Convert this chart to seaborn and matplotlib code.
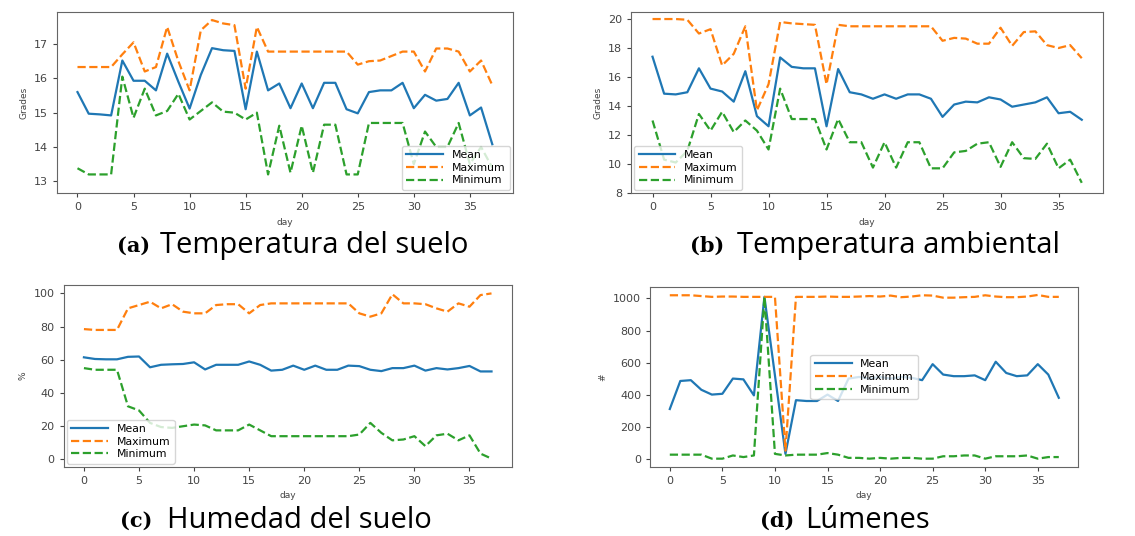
import pandas as pd
import matplotlib.pyplot as plt
import seaborn as sns

days = list(range(38))

# (a) soil temperature
soil_mean = [15.6, 14.97, 14.95, 14.92, 16.52, 15.93, 15.93, 15.65, 16.72, 15.9,
             15.12, 16.1, 16.88, 16.82, 16.8, 15.1, 16.78, 15.65, 15.85, 15.13,
             15.85, 15.13, 15.87, 15.87, 15.1, 14.98, 15.6, 15.65, 15.65, 15.87,
             15.13, 15.52, 15.35, 15.4, 15.87, 14.92, 15.15, 14.08]
soil_max = [16.33, 16.33, 16.33, 16.33, 16.7, 17.05, 16.2, 16.33, 17.5, 16.5,
            15.65, 17.4, 17.7, 17.6, 17.55, 15.7, 17.5, 16.78, 16.78, 16.78,
            16.78, 16.78, 16.78, 16.78, 16.78, 16.4, 16.5, 16.52, 16.65, 16.78,
            16.78, 16.2, 16.87, 16.87, 16.78, 16.2, 16.52, 15.8]
soil_min = [13.38, 13.2, 13.2, 13.2, 16.05, 14.85, 15.7, 14.92, 15.05, 15.55,
            14.8, 15.05, 15.3, 15.03, 15.0, 14.8, 15.0, 13.2, 14.62, 13.25,
            14.62, 13.25, 14.65, 14.65, 13.2, 13.2, 14.7, 14.7, 14.7, 14.7,
            13.5, 14.45, 14.0, 14.0, 14.7, 13.5, 14.0, 13.4]

# (b) ambient temperature
amb_mean = [17.4, 14.85, 14.8, 14.95, 16.6, 15.2, 15.0, 14.3, 16.4, 13.3,
            12.6, 17.35, 16.7, 16.6, 16.6, 12.6, 16.55, 14.95, 14.8, 14.5,
            14.8, 14.5, 14.8, 14.8, 14.5, 13.25, 14.1, 14.3, 14.25, 14.6,
            14.45, 13.95, 14.1, 14.25, 14.6, 13.5, 13.6, 13.05]
amb_max = [20.0, 20.0, 20.0, 19.95, 19.0, 19.3, 16.8, 17.6, 19.5, 13.7,
           15.5, 19.8, 19.7, 19.65, 19.6, 15.5, 19.6, 19.5, 19.5, 19.5,
           19.5, 19.5, 19.5, 19.5, 19.5, 18.5, 18.7, 18.65, 18.3, 18.3,
           19.4, 18.15, 19.1, 19.15, 18.2, 18.0, 18.2, 17.3]
amb_min = [13.0, 10.3, 10.1, 10.9, 13.45, 12.3, 13.6, 12.2, 13.0, 12.3,
           11.0, 15.2, 13.1, 13.1, 13.1, 11.0, 13.1, 11.5, 11.5, 9.75,
           11.5, 9.75, 11.5, 11.5, 9.7, 9.7, 10.8, 10.9, 11.4, 11.5,
           9.8, 11.5, 10.4, 10.35, 11.4, 9.7, 10.3, 8.7]

# (c) soil humidity
hum_mean = [61.5, 60.5, 60.3, 60.3, 61.8, 62.0, 55.5, 57.0, 57.3, 57.5,
            58.5, 54.2, 57.0, 57.0, 57.0, 59.0, 57.0, 53.5, 54.0, 56.5,
            54.0, 56.5, 54.0, 54.0, 56.5, 56.2, 54.0, 53.2, 55.0, 55.0,
            56.5, 53.5, 55.0, 54.2, 55.0, 56.3, 53.0, 53.0]
hum_max = [78.5, 78.0, 78.0, 78.0, 91.0, 93.0, 95.0, 91.0, 93.5, 89.0,
           88.0, 88.0, 93.0, 93.5, 93.5, 88.0, 93.0, 94.0, 94.0, 94.0,
           94.0, 94.0, 94.0, 94.0, 94.0, 88.0, 86.0, 88.0, 99.5, 94.0,
           94.0, 93.5, 91.0, 89.0, 94.0, 92.0, 99.0, 100.0]
hum_min = [55.0, 54.0, 54.0, 54.0, 32.0, 29.5, 22.0, 19.5, 19.0, 20.0,
           21.0, 20.5, 17.5, 17.5, 17.5, 21.0, 17.5, 14.0, 14.0, 14.0,
           14.0, 14.0, 14.0, 14.0, 14.0, 15.0, 22.0, 16.0, 11.5, 12.0,
           14.0, 8.0, 14.5, 15.5, 11.5, 14.5, 3.5, 0.5]

# (d) lumens
lum_mean = [310, 485, 490, 430, 400, 405, 500, 495, 395, 1010,
            520, 30, 365, 360, 360, 400, 360, 500, 510, 500,
            510, 500, 510, 505, 490, 590, 525, 515, 515, 520,
            490, 605, 535, 515, 520, 590, 525, 380]
lum_max = [1020, 1020, 1020, 1015, 1010, 1012, 1012, 1010, 1010, 1010,
           1010, 50, 1010, 1010, 1010, 1012, 1010, 1010, 1012, 1015,
           1012, 1018, 1008, 1012, 1020, 1018, 1005, 1005, 1008, 1010,
           1020, 1012, 1008, 1008, 1012, 1022, 1010, 1010]
lum_min = [25, 25, 25, 25, 0, 0, 20, 10, 20, 1010,
           30, 20, 25, 25, 25, 35, 25, 5, 5, 0,
           5, 0, 5, 5, 0, 0, 15, 15, 20, 20,
           0, 15, 15, 15, 20, 0, 10, 10]

stats = ['Mean', 'Maximum', 'Minimum']
ylabels = ['Grades', 'Grades', '%', '#']
letters = ['(a)', '(b)', '(c)', '(d)']
captions = ['Temperatura del suelo', 'Temperatura ambiental',
            'Humedad del suelo', 'Lúmenes']
legend_locs = ['lower right', 'lower left', 'lower left', 'center']
panels = [(soil_mean, soil_max, soil_min), (amb_mean, amb_max, amb_min),
          (hum_mean, hum_max, hum_min), (lum_mean, lum_max, lum_min)]


def to_long(series):
    frames = []
    for name, vals in zip(stats, series):
        frames.append(pd.DataFrame({'day': days, 'value': vals, 'stat': name}))
    return pd.concat(frames, ignore_index=True)


palette = {'Mean': '#1f77b4', 'Maximum': '#ff7f0e', 'Minimum': '#2ca02c'}
dashes = {'Mean': '', 'Maximum': (3.7, 1.6), 'Minimum': (3.7, 1.6)}

fig = plt.figure(figsize=(11.35, 5.36), dpi=100)
rects = [[0.050, 0.640, 0.402, 0.338],
         [0.556, 0.640, 0.416, 0.338],
         [0.056, 0.129, 0.395, 0.339],
         [0.573, 0.129, 0.377, 0.336]]
# (letter x, caption x, y) in pixels
caption_pos = [(117, 160, 246), (690, 737, 246), (120, 167, 521), (760, 805, 521)]

for i, series in enumerate(panels):
    ax = fig.add_axes(rects[i])
    df = to_long(series)
    sns.lineplot(data=df, x='day', y='value', hue='stat', style='stat',
                 palette=palette, dashes=dashes, linewidth=1.6, ax=ax)
    ax.set_xlabel('day', fontsize=6.5, color='#444444')
    ax.set_ylabel(ylabels[i], fontsize=6.5, color='#444444')
    ax.tick_params(labelsize=8, colors='#444444', length=3)
    for s in ax.spines.values():
        s.set_color('#666666')
    sns.move_legend(ax, legend_locs[i], title=None, fontsize=7.8,
                    handlelength=3.4, labelspacing=0.25, borderaxespad=0.3)
    if i == 0:
        ax.set_ylim(12.66, 17.94)
    if i == 1:
        ax.set_ylim(8.0, 20.5)

    lx, cx, cy = caption_pos[i]
    fig.text(lx / 1135, 1 - cy / 536, letters[i], fontsize=15,
             family='DejaVu Serif', fontweight='bold', ha='left', va='center')
    fig.text(cx / 1135, 1 - cy / 536, captions[i], fontsize=21,
             family='Open Sans', ha='left', va='center')

fig.savefig('out.png', dpi=100)
